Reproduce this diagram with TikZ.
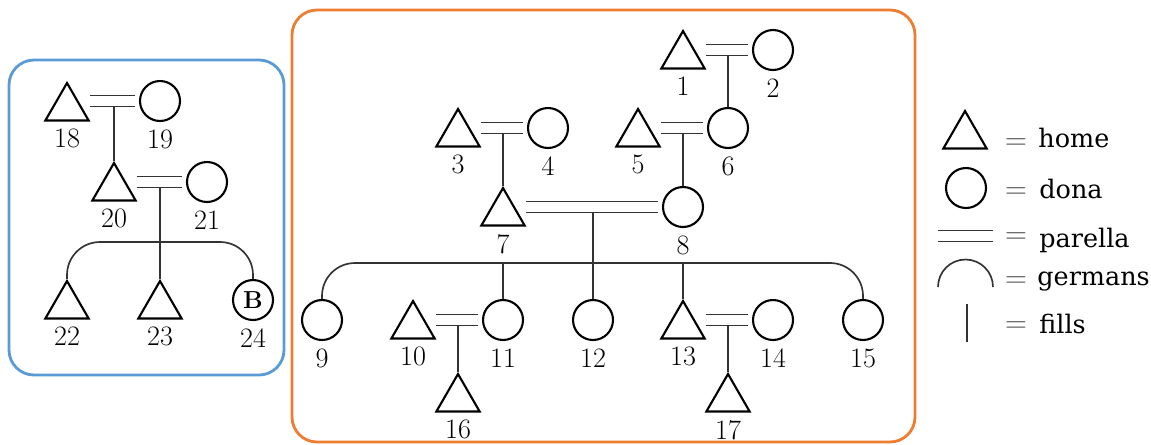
\documentclass[tikz,border=0pt]{standalone}
\usepackage{fontspec}
\newfontfamily\legfont{DejaVu Serif}
\usetikzlibrary{shapes.geometric}
\definecolor{boxblue}{RGB}{91,155,213}
\definecolor{boxorange}{RGB}{237,125,49}
\tikzset{
	home/.style={draw, regular polygon, regular polygon sides=3, minimum size=1cm, inner sep=0pt, line width=1.2pt},
	dona/.style={draw, circle, minimum size=0.8cm, inner sep=0pt, line width=1.2pt},
	parella/.style={draw=black!80, double, double distance=0.19cm, line width=0.95pt, shorten >=0.08cm},
	germans/.style={draw=black!80, line width=0.95pt, rounded corners=0.66cm},
	fills/.style={draw=black!80, line width=0.95pt},
	caixa/.style={line width=1.6pt, rounded corners=0.5cm},
	legtext/.style={anchor=base west, inner sep=0pt, font=\legfont\fontsize{14.5}{17}\selectfont},
	igual/.style={anchor=base, inner sep=0pt, text=black!70, font=\fontsize{18}{21}\selectfont},
	every label/.style={font=\fontsize{16}{19}\selectfont, inner sep=0pt},
}
\begin{document}
\begin{tikzpicture}[x=0.02cm, y=-0.02cm, label distance=0.15cm]
	\useasboundingbox (0,0) rectangle (1151,444);
	% caixes
	\draw[caixa, boxblue] (9,60) rectangle (284,375);
	\draw[caixa, boxorange] (292,10) rectangle (915,442);
	
	% arbre de l'esquerra
	\node[home, label=below:18] (t18) at (67,108) {};
	\node[dona, label=below:19] (c19) at (160,101) {};
	\node[home, label=below:20] (t20) at (114,188) {};
	\node[dona, label=below:21] (c21) at (207,182) {};
	\node[home, label=below:22] (t22) at (67,306) {};
	\node[home, label=below:23] (t23) at (160,306) {};
	\node[dona, label=below:24, font=\fontsize{14}{17}\selectfont] (c24) at (253,300) {\textbf{B}};
	\coordinate (g1) at (160,242);
	\draw[fills] (t20.corner 1) -- (t20.corner 1 |- c19);
	\draw[fills] (t23.corner 1) -- (t23.corner 1 |- c21);
	\draw[germans] (t22.corner 1) |- (g1) -| (c24.north);
	\draw[parella] (t18.corner 3 |- c19) -- (c19.west);
	\draw[parella] (t20.corner 3 |- c21) -- (c21.west);
	
	% arbre de la dreta
	\node[home, label=below:1] (t1) at (683,56) {};
	\node[dona, label=below:2] (c2) at (773,50) {};
	\node[home, label=below:3] (t3) at (458,134) {};
	\node[dona, label=below:4] (c4) at (548,128) {};
	\node[home, label=below:5] (t5) at (638,134) {};
	\node[dona, label=below:6] (c6) at (728,128) {};
	\node[home, label=below:7] (t7) at (503,213) {};
	\node[dona, label=below:8] (c8) at (683,207) {};
	\node[dona, label=below:9] (c9) at (322,320) {};
	\node[home, label=below:10] (t10) at (413,326) {};
	\node[dona, label=below:11] (c11) at (503,320) {};
	\node[dona, label=below:12] (c12) at (593,320) {};
	\node[home, label=below:13] (t13) at (683,326) {};
	\node[dona, label=below:14] (c14) at (773,320) {};
	\node[dona, label=below:15] (c15) at (863,320) {};
	\node[home, label=below:16] (t16) at (458,399) {};
	\node[home, label=below:17] (t17) at (728,399) {};
	\coordinate (g2) at (593,263);
	\draw[fills] (c6.north) -- (c6.north |- c2);
	\draw[fills] (t7.corner 1) -- (t7.corner 1 |- c4);
	\draw[fills] (c8.north) -- (c8.north |- c6);
	\draw[fills] (c12.north) -- (c12.north |- c8);
	\draw[fills] (c11.north) -- (c11.north |- g2);
	\draw[fills] (t13.corner 1) -- (t13.corner 1 |- g2);
	\draw[fills] (t16.corner 1) -- (t16.corner 1 |- c11);
	\draw[fills] (t17.corner 1) -- (t17.corner 1 |- c14);
	\draw[germans] (c9.north) |- (g2) -| (c15.north);
	\draw[parella] (t1.corner 3 |- c2) -- (c2.west);
	\draw[parella] (t3.corner 3 |- c4) -- (c4.west);
	\draw[parella] (t5.corner 3 |- c6) -- (c6.west);
	\draw[parella] (t7.corner 3 |- c8) -- (c8.west);
	\draw[parella] (t10.corner 3 |- c11) -- (c11.west);
	\draw[parella] (t13.corner 3 |- c14) -- (c14.west);
	
	% llegenda
	\node[home] (lhome) at (965,136) {};
	\node[dona] (ldona) at (966,188) {};
	\draw[parella, shorten >=0pt] (938,236) -- (993,236);
	\draw[germans] (938,287) arc[start angle=180, end angle=0, radius=0.55cm];
	\draw[fills] (967,304) -- (967,342);
	\node[igual] (e1) at (1016,149) {$=$};
	\node[igual] (e2) at (1016,198) {$=$};
	\node[igual] (e3) at (1016,243) {$=$};
	\node[igual] (e4) at (1016,287) {$=$};
	\node[igual] (e5) at (1016,332) {$=$};
	\node[legtext] (thome) at (1038,147) {home};
	\node[legtext] (tdona) at (1039,198) {dona};
	\node[legtext] (tparella) at (1039,247) {parella};
	\node[legtext] (tgermans) at (1037,285) {germans};
	\node[legtext] (tfills) at (1039,333) {fills};
\end{tikzpicture}
\end{document}
